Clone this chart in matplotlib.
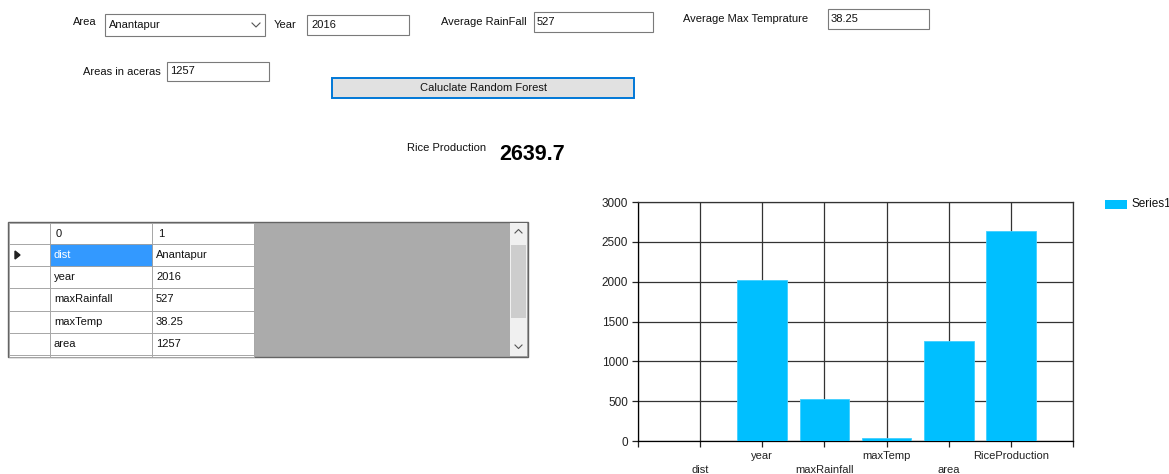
import matplotlib.pyplot as plt
from matplotlib.patches import Rectangle

# chart data
categories = ['dist', 'year', 'maxRainfall', 'maxTemp', 'area', 'RiceProduction']
values = [0, 2016, 527, 38.25, 1257, 2639.7]
y_ticks = [0, 500, 1000, 1500, 2000, 2500, 3000]

# form inputs
area_name = 'Anantapur'
year = '2016'
avg_rainfall = '527'
avg_max_temp = '38.25'
area_acres = '1257'
rice_production = '2639.7'

# grid rows
col_headers = ['0', '1']
row_keys = ['dist', 'year', 'maxRainfall', 'maxTemp', 'area']
row_vals = ['Anantapur', '2016', '527', '38.25', '1257']

plt.rcParams['font.family'] = ['Liberation Sans', 'DejaVu Sans']

W, H = 1169, 474
fig = plt.figure(figsize=(W / 100, H / 100), dpi=100)
fig.patch.set_facecolor('white')

# background axes in pixel coordinates for the form controls
bg = fig.add_axes([0, 0, 1, 1])
bg.set_xlim(0, W)
bg.set_ylim(H, 0)
bg.axis('off')


def box(x0, y0, x1, y1, fc='white', ec='#7a7a7a', lw=0.8, z=1):
    bg.add_patch(Rectangle((x0, y0), x1 - x0, y1 - y0, fc=fc, ec=ec, lw=lw, zorder=z))


def label(x, y, s, **kw):
    kw.setdefault('fontsize', 8)
    kw.setdefault('va', 'center')
    kw.setdefault('color', '#111111')
    kw.setdefault('zorder', 5)
    bg.text(x, y, s, **kw)


# top row of inputs
label(73, 22, 'Area')
box(105, 14, 265, 36)
label(109, 25, area_name)
bg.plot([252, 256, 260], [23, 27, 23], color='#555555', lw=0.8, zorder=5)
label(274, 25, 'Year')
box(307, 15, 409, 35)
label(311, 25, year)
label(441, 22, 'Average RainFall')
box(534, 12, 653, 32)
label(537, 22, avg_rainfall)
label(683, 19, 'Average Max Temprature')
box(828, 9, 929, 29)
label(831, 19, avg_max_temp)

label(83, 72, 'Areas in aceras')
box(167, 62, 269, 81)
label(170, 71, area_acres)

# button
box(332, 78, 634, 98, fc='#e1e1e1', ec='#0078d7', lw=1.4)
label(483, 88, 'Caluclate Random Forest', ha='center')

# result
label(407, 148, 'Rice Production')
label(499, 155, rice_production, fontsize=15.5, fontweight='bold', color='black')

# data grid
box(8, 222, 528, 357, fc='#ababab', ec='#646464', lw=1.0, z=1)
col_x = [9, 50, 152, 254]
row_y = [223, 244, 266, 288, 311, 333, 355, 357]
cell_ec = '#a0a0a0'
for r in range(len(row_y) - 1):
    for c in range(len(col_x) - 1):
        box(col_x[c], row_y[r], col_x[c + 1], row_y[r + 1], fc='white', ec=cell_ec, lw=0.6, z=2)
for c, h in enumerate(col_headers):
    label(col_x[c + 1] + 6, (row_y[0] + row_y[1]) / 2, h)
for r, (k, v) in enumerate(zip(row_keys, row_vals)):
    yc = (row_y[r + 1] + row_y[r + 2]) / 2
    if r == 0:
        box(col_x[1], row_y[1], col_x[2], row_y[2], fc='#3399ff', ec=cell_ec, lw=0.6, z=3)
        label(col_x[1] + 4, yc, k, color='white')
    else:
        label(col_x[1] + 4, yc, k)
    label(col_x[2] + 4, yc, v)
bg.fill([15, 15, 20], [251, 259, 255], color='#222222', zorder=5)

# scrollbar
box(510, 223, 527, 356, fc='#f0f0f0', ec='none', z=3)
box(511, 245, 526, 318, fc='#cdcdcd', ec='none', z=4)
bg.plot([515, 518.5, 522], [233, 229.5, 233], color='#555555', lw=0.8, zorder=5)
bg.plot([515, 518.5, 522], [345, 348.5, 345], color='#555555', lw=0.8, zorder=5)

# legend
box(1105, 200, 1127, 209, fc='#00bfff', ec='none')
label(1131, 204, 'Series1', fontsize=8.5)

# bar chart
left, right, top, bottom = 638, 1073, 202, 441
ax = fig.add_axes([left / W, 1 - bottom / H, (right - left) / W, (bottom - top) / H])
ax.set_facecolor('white')
xs = list(range(1, len(categories) + 1))
ax.bar(xs, values, width=0.8, color='#00bfff', edgecolor='#40cfff', lw=0.6, zorder=3)
ax.set_xlim(0, len(categories) + 1)
ax.set_ylim(0, 3000)
ax.set_yticks(y_ticks)
ax.set_yticklabels([str(t) for t in y_ticks], fontsize=8.5, color='#222222')
ax.set_xticks(range(0, len(categories) + 2))
xlabels = [''] + [('\n' + c) if i % 2 == 0 else c for i, c in enumerate(categories)] + ['']
ax.set_xticklabels(xlabels, fontsize=8, color='#222222', linespacing=1.5)
ax.tick_params(axis='both', length=4, width=0.9, color='#222222', pad=3)
ax.grid(True, color='#333333', lw=0.9, zorder=1)
for s in ax.spines.values():
    s.set_color('#333333')
    s.set_linewidth(0.9)
ax.spines['left'].set_color('black')
ax.spines['bottom'].set_color('black')

fig.savefig('out.png', dpi=100, facecolor='white')
